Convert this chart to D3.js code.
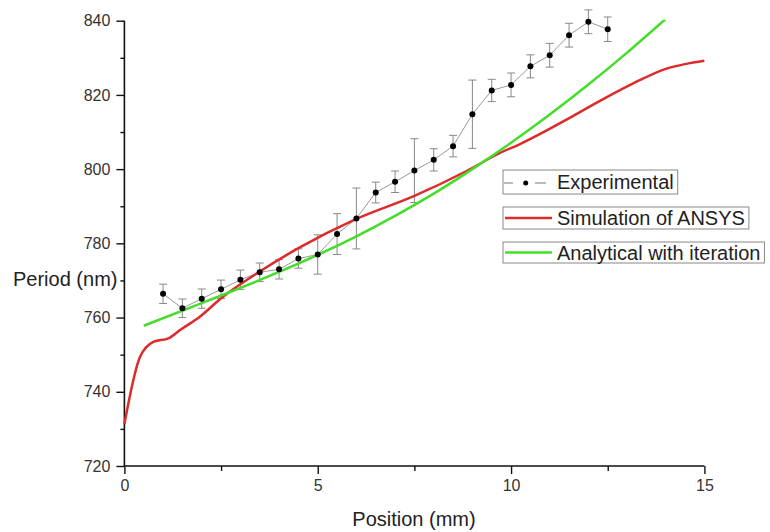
<!DOCTYPE html>
<html><head><meta charset="utf-8">
<script src="https://cdn.jsdelivr.net/npm/d3@7"></script>
<style>
html,body{margin:0;padding:0;background:#fff;}
text{font-family:"Liberation Sans",Arial,sans-serif;}
</style></head>
<body><svg id="chart" width="770" height="532"></svg>
<script>
// ---- data ----
const expX = [1,1.5,2,2.5,3,3.5,4,4.5,5,5.5,6,6.5,7,7.5,8,8.5,9,9.5,10,10.5,11,11.5,12,12.5];
const expY = [766.4,762.5,765.1,767.6,770.2,772.2,773.0,775.9,777.0,782.5,786.7,793.7,796.6,799.6,802.5,806.2,814.8,821.2,822.7,827.7,830.7,836.1,839.7,837.7];
const expErr = [2.6,2.5,2.6,2.5,2.6,2.5,2.6,2.6,5.3,5.5,8.2,2.8,2.9,8.6,3.0,2.9,9.2,3.0,3.2,3.1,3.2,3.2,3.2,3.3];
const ansysX = [0,0.4,0.76,1.14,1.45,1.96,2.5,3.5,4.5,6,7.5,8.85,9.7,10.22,11.6,12.3,13.16,14.02,14.5,15];
const ansysY = [731.3,749.3,753.5,754.4,756.7,760.3,765.2,772.4,778.7,786.6,792.8,799.5,804.3,806.7,814.3,818.4,823.1,827.1,828.3,829.2];
const anaX = [0.5,2,3,4,5,6,7,8,9,10,11,12,13,14];
const anaY = [757.8,763.9,768.0,772.3,776.9,781.9,787.4,793.4,800.0,807.1,814.7,822.8,831.4,840.5];
const xTicks = [0,5,10,15];
const xMinor = [2.5,7.5,12.5];
const yTicks = [720,740,760,780,800,820,840];
const yMinor = [730,750,770,790,810,830];
const legendLabels = ["Experimental","Simulation of ANSYS","Analytical with iteration"];
const colors = {exp:"#999999", ansys:"#dd2a2a", ana:"#44dd2a"};

// ---- chart ----
const svg = d3.select("#chart");
const x = d3.scaleLinear().domain([0,15]).range([124.4,704.4]);
const y = d3.scaleLinear().domain([720,840]).range([466,20.7]);

// axes
const gx = svg.append("g").attr("transform",`translate(0,${y(720)})`)
  .call(d3.axisBottom(x).tickValues(xTicks).tickSize(8).tickPadding(6).tickFormat(d3.format("d")));
svg.append("g").attr("transform",`translate(0,${y(720)})`)
  .call(d3.axisBottom(x).tickValues(xMinor).tickSize(5).tickFormat(""))
  .select(".domain").remove();
const gy = svg.append("g").attr("transform",`translate(${x(0)},0)`)
  .call(d3.axisLeft(y).tickValues(yTicks).tickSize(8).tickPadding(6).tickFormat(d3.format("d")));
svg.append("g").attr("transform",`translate(${x(0)},0)`)
  .call(d3.axisLeft(y).tickValues(yMinor).tickSize(4).tickFormat(""))
  .select(".domain").remove();
svg.selectAll(".domain").attr("stroke","#111").attr("stroke-width",1.6);
svg.selectAll(".tick line").attr("stroke","#111").attr("stroke-width",1.4);
svg.selectAll(".tick text").attr("font-size",16).attr("fill","#333")
  .attr("font-family","'Liberation Sans',Arial,sans-serif");
gy.select(".domain").attr("d",`M0,${y(720)}V${y(840)}`);
gx.select(".domain").attr("d",`M${x(0)},0H${x(15)}`);

// axis titles
svg.append("text").attr("x",414).attr("y",526).attr("text-anchor","middle")
  .attr("font-size",20).attr("fill","#222").text("Position (mm)");
svg.append("text").attr("x",13).attr("y",286).attr("text-anchor","start")
  .attr("font-size",20).attr("fill","#222").text("Period (nm)");

// clip
svg.append("clipPath").attr("id","clip").append("rect")
  .attr("x",x(0)).attr("y",y(840)-1).attr("width",x(15)-x(0)+2).attr("height",y(720)-y(840)+1);

const line = d3.line().x(d=>x(d[0])).y(d=>y(d[1])).curve(d3.curveMonotoneX);
const plot = svg.append("g");

// experimental
const exp = expX.map((v,i)=>[v,expY[i],expErr[i]]);
plot.append("path").datum(exp).attr("fill","none").attr("stroke",colors.exp).attr("stroke-width",1)
  .attr("d",d3.line().x(d=>x(d[0])).y(d=>y(d[1])));
const eb = plot.append("g").attr("stroke","#888").attr("stroke-width",1);
exp.forEach(d=>{
  const cx = x(d[0]), t = y(d[1]+d[2]), b = y(d[1]-d[2]);
  eb.append("line").attr("x1",cx).attr("x2",cx).attr("y1",t).attr("y2",b);
  eb.append("line").attr("x1",cx-4).attr("x2",cx+4).attr("y1",t).attr("y2",t);
  eb.append("line").attr("x1",cx-4).attr("x2",cx+4).attr("y1",b).attr("y2",b);
});

// model lines
plot.append("path").datum(ansysX.map((v,i)=>[v,ansysY[i]])).attr("fill","none")
  .attr("stroke",colors.ansys).attr("stroke-width",2.5).attr("d",line);
plot.append("path").datum(anaX.map((v,i)=>[v,anaY[i]])).attr("fill","none")
  .attr("stroke",colors.ana).attr("stroke-width",2.5).attr("clip-path","url(#clip)")
  .attr("d",d3.line().x(d=>x(d[0])).y(d=>y(d[1])).curve(d3.curveNatural));

plot.selectAll("circle.pt").data(exp).enter().append("circle")
  .attr("cx",d=>x(d[0])).attr("cy",d=>y(d[1])).attr("r",3).attr("fill","#000");

// legend
const legY = [170,207,242];
const legH = [24,22,21];
legendLabels.forEach((lab,i)=>{
  const g = svg.append("g");
  const rect = g.append("rect").attr("x",503).attr("y",legY[i]).attr("height",legH[i])
    .attr("fill","#fff").attr("stroke","#888").attr("stroke-width",1);
  const cy = legY[i]+legH[i]/2;
  if(i===0){
    g.append("line").attr("x1",504).attr("x2",513).attr("y1",cy+1).attr("y2",cy+1).attr("stroke","#777");
    g.append("line").attr("x1",535).attr("x2",546).attr("y1",cy+1).attr("y2",cy+1).attr("stroke","#777");
    g.append("circle").attr("cx",525.7).attr("cy",cy+1).attr("r",2.5).attr("fill","#000");
  } else {
    g.append("line").attr("x1",505).attr("x2",552).attr("y1",cy).attr("y2",cy)
      .attr("stroke",i===1?colors.ansys:colors.ana).attr("stroke-width",2.5);
  }
  const t = g.append("text").attr("x",557).attr("y",cy+7).attr("font-size",20).attr("fill","#222").text(lab);
  const w = t.node().getComputedTextLength();
  rect.attr("width",557+w+4-503);
});
</script></body></html>
